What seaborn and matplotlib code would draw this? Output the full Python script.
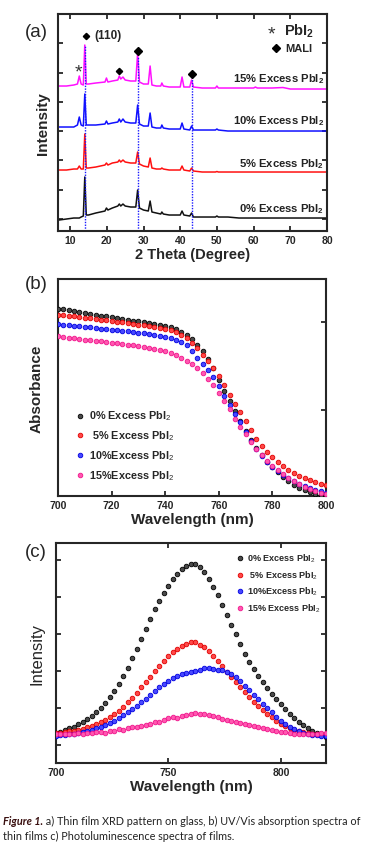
import numpy as np
import pandas as pd
import matplotlib
matplotlib.use('Agg')
import matplotlib.pyplot as plt
import seaborn as sns

sns.set_theme(style='ticks')
plt.rcParams['font.family'] = ['Liberation Sans', 'DejaVu Sans']
plt.rcParams['mathtext.fontset'] = 'custom'
plt.rcParams['mathtext.rm'] = 'Liberation Sans'
plt.rcParams['mathtext.bf'] = 'Liberation Sans:bold'
plt.rcParams['mathtext.it'] = 'Liberation Sans:italic'
plt.rcParams['axes.linewidth'] = 1.5

# --- (a) XRD patterns (arbitrary intensity units) ---
theta = [7, 9, 11, 12.0, 12.5, 13.0, 13.6, 14.0, 14.4, 15, 17, 19.5, 19.9, 20.3,
         21.5, 23.0, 23.4, 23.8, 24.4, 25, 26.5, 27.9, 28.4, 28.9, 30, 31.3, 31.8,
         32.3, 33.5, 34.7, 35.0, 35.4, 37, 40.0, 40.5, 41.0, 42.6, 43.1, 43.6, 46,
         49.6, 50.0, 50.4, 53, 56, 60, 60.5, 61, 65, 68, 70, 75, 80]
xrd_0 = [110, 120, 130, 130, 130, 140, 150, 540, 160, 160, 180, 200, 230, 210,
         230, 250, 270, 250, 270, 250, 240, 240, 410, 230, 210, 200, 300,
         190, 180, 170, 190, 170, 160, 160, 200, 160, 150, 180, 140, 140,
         140, 150, 140, 140, 130, 130, 130, 130, 130, 130, 130, 130, 130]
xrd_5 = [610, 610, 620, 620, 650, 620, 620, 970, 630, 630, 640, 660, 680, 660,
         680, 690, 710, 690, 710, 690, 680, 680, 790, 670, 650, 640, 730,
         630, 620, 620, 630, 620, 610, 610, 650, 610, 600, 630, 600, 590,
         590, 595, 590, 590, 590, 590, 590, 590, 590, 590, 590, 590, 590]
xrd_10 = [1040, 1040, 1040, 1060, 1140, 1060, 1050, 1370, 1060, 1060, 1060, 1070, 1100, 1070,
          1080, 1090, 1120, 1090, 1120, 1090, 1080, 1080, 1260, 1070, 1050, 1050, 1180,
          1040, 1030, 1030, 1060, 1030, 1020, 1020, 1080, 1020, 1010, 1050, 1010, 1010,
          1010, 1020, 1010, 1000, 1000, 1000, 1000, 1000, 1000, 1000, 1000, 1000, 1000]
xrd_15 = [1450, 1450, 1460, 1470, 1550, 1470, 1460, 1860, 1470, 1470, 1480, 1490, 1530, 1490,
          1500, 1510, 1550, 1520, 1540, 1510, 1500, 1500, 1780, 1490, 1470, 1470, 1650,
          1460, 1450, 1450, 1480, 1450, 1440, 1440, 1540, 1440, 1440, 1510, 1440, 1430,
          1430, 1450, 1430, 1430, 1430, 1430, 1440, 1430, 1430, 1435, 1420, 1420, 1420]
xrd_labels = ['0% Excess PbI$_\\mathbf{2}$', '5% Excess PbI$_\\mathbf{2}$',
              '10% Excess PbI$_\\mathbf{2}$', '15% Excess PbI$_\\mathbf{2}$']
xrd_colors = ['#111111', '#ff1010', '#1010ff', '#ff10ff']
mali_peaks = [14.0, 28.4, 43.1]
mali_tops = [1860, 1750, 1550]

# --- (b) UV/Vis absorbance ---
uv_wl = np.arange(700, 801, 2)
abs_0 = [1.078, 1.074, 1.069, 1.064, 1.059, 1.054, 1.049, 1.044, 1.038, 1.033,
         1.028, 1.023, 1.018, 1.014, 1.009, 1.005, 1.000, 0.995, 0.990, 0.985,
         0.978, 0.970, 0.959, 0.945, 0.927, 0.904, 0.872, 0.835, 0.792, 0.741,
         0.669, 0.609, 0.549, 0.492, 0.435, 0.380, 0.329, 0.280, 0.240, 0.203,
         0.172, 0.143, 0.117, 0.092, 0.072, 0.054, 0.040, 0.029, 0.020, 0.013, 0.009]
abs_5 = [1.044, 1.040, 1.037, 1.033, 1.029, 1.025, 1.022, 1.018, 1.014, 1.010,
         1.007, 1.003, 0.999, 0.995, 0.991, 0.987, 0.983, 0.979, 0.974, 0.968,
         0.961, 0.953, 0.942, 0.927, 0.907, 0.881, 0.850, 0.815, 0.778, 0.738,
         0.692, 0.641, 0.586, 0.535, 0.485, 0.435, 0.383, 0.332, 0.295, 0.260,
         0.227, 0.201, 0.179, 0.157, 0.139, 0.123, 0.109, 0.096, 0.085, 0.077, 0.070]
abs_10 = [0.990, 0.986, 0.983, 0.980, 0.977, 0.974, 0.970, 0.967, 0.964, 0.961,
          0.958, 0.955, 0.951, 0.948, 0.945, 0.941, 0.936, 0.931, 0.926, 0.921,
          0.914, 0.907, 0.898, 0.887, 0.867, 0.835, 0.798, 0.761, 0.724, 0.685,
          0.638, 0.578, 0.529, 0.478, 0.429, 0.375, 0.323, 0.275, 0.236, 0.201,
          0.170, 0.149, 0.129, 0.109, 0.092, 0.077, 0.064, 0.053, 0.042, 0.033, 0.024]
abs_15 = [0.919, 0.916, 0.912, 0.909, 0.905, 0.901, 0.898, 0.894, 0.890, 0.886,
          0.883, 0.879, 0.875, 0.871, 0.867, 0.863, 0.859, 0.854, 0.848, 0.841,
          0.833, 0.824, 0.812, 0.798, 0.781, 0.763, 0.741, 0.712, 0.678, 0.641,
          0.598, 0.552, 0.501, 0.449, 0.402, 0.358, 0.315, 0.275, 0.240, 0.209,
          0.179, 0.155, 0.132, 0.110, 0.090, 0.073, 0.057, 0.044, 0.034, 0.026, 0.020]
uv_labels = ['0% Excess PbI$_2$', ' 5% Excess PbI$_2$',
             '10%Excess PbI$_2$', '15%Excess PbI$_2$']

# --- (c) Photoluminescence ---
pl_wl = np.arange(700, 821, 2)
pl_0 = [324, 365, 405, 451, 500, 568, 635, 703, 784, 892,
        1000, 1135, 1297, 1460, 1649, 1865, 2095, 2352, 2608, 2865,
        3135, 3406, 3676, 3892, 4109, 4311, 4487, 4636, 4757, 4838,
        4892, 4892, 4811, 4676, 4487, 4284, 4055, 3784, 3514, 3244,
        3000, 2730, 2460, 2257, 2054, 1873, 1703, 1541, 1379, 1243,
        1108, 973, 851, 730, 635, 541, 460, 392, 324, 270, 230]
pl_5 = [324, 338, 351, 370, 392, 419, 446, 478, 514, 568,
        622, 689, 757, 838, 933, 1041, 1154, 1284, 1419, 1560,
        1703, 1852, 2008, 2149, 2284, 2419, 2527, 2608, 2684, 2744,
        2776, 2776, 2717, 2641, 2541, 2419, 2284, 2135, 1987, 1852,
        1716, 1568, 1425, 1297, 1176, 1062, 951, 851, 749, 662,
        581, 514, 460, 419, 378, 351, 324, 311, 297, 297, 297]
pl_10 = [257, 270, 284, 297, 311, 338, 359, 387, 419, 460,
         500, 554, 608, 662, 730, 803, 884, 973, 1062, 1154,
         1257, 1352, 1468, 1568, 1662, 1738, 1803, 1865, 1919, 1952,
         1979, 2008, 2041, 2073, 2073, 2060, 2041, 2027, 1987, 1933,
         1852, 1743, 1603, 1487, 1365, 1243, 1122, 1000, 884, 770,
         662, 568, 487, 432, 378, 338, 311, 284, 270, 257, 257]
pl_15 = [311, 311, 297, 297, 297, 324, 311, 338, 324, 351,
         359, 338, 392, 387, 446, 419, 460, 487, 500, 527,
         554, 581, 622, 635, 689, 722, 757, 743, 792, 811,
         838, 865, 851, 838, 811, 776, 757, 716, 689, 654,
         630, 595, 568, 535, 505, 478, 451, 432, 414, 392,
         365, 343, 324, 311, 297, 297, 289, 297, 311, 316, 316]
pl_labels = ['0% Excess PbI$_2$', ' 5% Excess PbI$_2$',
             '10%Excess PbI$_2$', '15% Excess PbI$_2$']

face_colors = ['#4a4a4a', '#ff4848', '#4848ff', '#ff58b0']
edge_colors = ['#000000', '#e00000', '#0000e0', '#f0148c']

fig = plt.figure(figsize=(3.65, 8.53), dpi=100)
fig.patch.set_facecolor('white')

# ---------------- (a) ----------------
ax1 = fig.add_axes([0.1589, 0.7280, 0.7370, 0.2544])
for ys, c in zip([xrd_0, xrd_5, xrd_10, xrd_15], xrd_colors):
    sns.lineplot(x=theta, y=ys, ax=ax1, color=c, lw=1.1, errorbar=None)
ax1.vlines(mali_peaks, 0, mali_tops, colors='#1a1aff', linestyles=(0, (1, 1)), lw=1.0)
ax1.set_xlim(6.7, 80)
ax1.set_ylim(0, 2170)
ax1.set_xticks(range(10, 81, 10))
ax1.set_yticks(np.arange(120, 2170, 293))
ax1.tick_params(direction='in', top=True, right=True, length=3.5, width=1.3,
                labelleft=False, labelsize=7.5, pad=3)
for lab in ax1.get_xticklabels():
    lab.set_fontweight('bold')
ax1.set_xlabel('2 Theta (Degree)', fontsize=10.5, fontweight='bold', labelpad=1)
ax1.set_ylabel('Intensity', fontsize=11, fontweight='bold', labelpad=6)

label_y = [0.106, 0.313, 0.512, 0.705]
for lab, yy in zip(xrd_labels, label_y):
    ax1.text(0.99, yy, lab, transform=ax1.transAxes, ha='right', va='center',
             fontsize=8.1, fontweight='bold', color='#222222')

# peak markers and phase key
ax1.plot([14.3, 23.4], [1950, 1600], 'D', color='black', ms=3.2, ls='none')
ax1.plot([28.4, 43.1], [1800, 1570], 'D', color='black', ms=4.5, ls='none')
ax1.text(16.6, 1960, '(110)', fontsize=8.5, fontweight='bold', va='center')
ax1.text(12.4, 1590, '*', fontsize=14, ha='center', va='center', color='#333333')
ax1.text(65.0, 1970, '*', fontsize=14, ha='center', va='center', color='#333333')
ax1.text(68.3, 2010, 'PbI$_\\mathbf{2}$', fontsize=10.5, fontweight='bold', va='center')
ax1.plot([66.1], [1830], 'D', color='black', ms=4.5, ls='none')
ax1.text(68.5, 1830, 'MALI', fontsize=8, fontweight='bold', va='center')
fig.text(0.068, 0.962, '(a)', fontsize=13.5, ha='left', va='center')

# ---------------- (b) ----------------
ax2 = fig.add_axes([0.1589, 0.4173, 0.7342, 0.2544])
for ys, lab, fc, ec in zip([abs_0, abs_5, abs_10, abs_15], uv_labels, face_colors, edge_colors):
    sns.scatterplot(x=uv_wl, y=ys, ax=ax2, s=11, color=fc, edgecolor=ec,
                    linewidth=0.6, label=lab, legend=False, zorder=3)
ax2.set_xlim(700, 800)
ax2.set_ylim(0.006, 1.247)
ax2.set_xticks(range(700, 801, 20))
ax2.set_yticks([0.5, 1.0])
ax2.tick_params(direction='in', left=False, right=True, length=3.5, width=1.3,
                labelleft=False, labelsize=7.5, pad=3)
for lab in ax2.get_xticklabels():
    lab.set_fontweight('bold')
ax2.set_xlabel('Wavelength (nm)', fontsize=11, fontweight='bold', labelpad=1)
ax2.set_ylabel('Absorbance', fontsize=11, fontweight='bold', labelpad=10)
leg2 = ax2.legend(loc='center left', bbox_to_anchor=(0.035, 0.235), frameon=False,
                  fontsize=7.8, handletextpad=0.3, labelspacing=0.55,
                  handlelength=1.0, borderpad=0.2)
for t in leg2.get_texts():
    t.set_fontweight('bold')
fig.text(0.068, 0.666, '(b)', fontsize=13.5, ha='left', va='center')

# ---------------- (c) ----------------
ax3 = fig.add_axes([0.1534, 0.1043, 0.7397, 0.2579])
for ys, lab, fc, ec in zip([pl_0, pl_5, pl_10, pl_15], pl_labels, face_colors, edge_colors):
    sns.scatterplot(x=pl_wl, y=ys, ax=ax3, s=11, color=fc, edgecolor=ec,
                    linewidth=0.6, label=lab, legend=False, zorder=3)
ax3.set_xlim(700, 820)
ax3.set_ylim(-487, 5460)
ax3.set_xticks([700, 750, 800])
ax3.set_yticks(range(0, 5001, 1000))
ax3.tick_params(direction='in', top=True, right=True, length=3.5, width=1.3,
                labelleft=False, labelsize=7.5, pad=3)
for lab in ax3.get_xticklabels():
    lab.set_fontweight('bold')
ax3.set_xlabel('Wavelength (nm)', fontsize=11, fontweight='bold', labelpad=1)
ax3.set_ylabel('Intensity', fontsize=12, labelpad=8)
leg3 = ax3.legend(loc='upper left', bbox_to_anchor=(0.64, 0.99), frameon=False,
                  fontsize=6.5, handletextpad=0.3, labelspacing=0.45,
                  handlelength=1.0, borderpad=0.2)
for t in leg3.get_texts():
    t.set_fontweight('bold')
fig.text(0.068, 0.352, '(c)', fontsize=13.5, ha='left', va='center')

# ---------------- caption ----------------
cap_font = ['Lato', 'DejaVu Sans']
cap_size = 7.8
t1 = fig.text(0.008, 0.033, 'Figure 1.', fontsize=cap_size, style='italic',
              fontweight='bold', family=cap_font, color='#3a1010', va='baseline')
fig.canvas.draw()
bb = t1.get_window_extent()
x2 = bb.x1 / fig.bbox.width
fig.text(x2, 0.033, ' a) Thin film XRD pattern on glass, b) UV/Vis absorption spectra of',
         fontsize=cap_size, family=cap_font, color='#222222', va='baseline')
fig.text(0.008, 0.015, 'thin films c) Photoluminescence spectra of films.',
         fontsize=cap_size, family=cap_font, color='#222222', va='baseline')

fig.savefig('out.png', dpi=100)
